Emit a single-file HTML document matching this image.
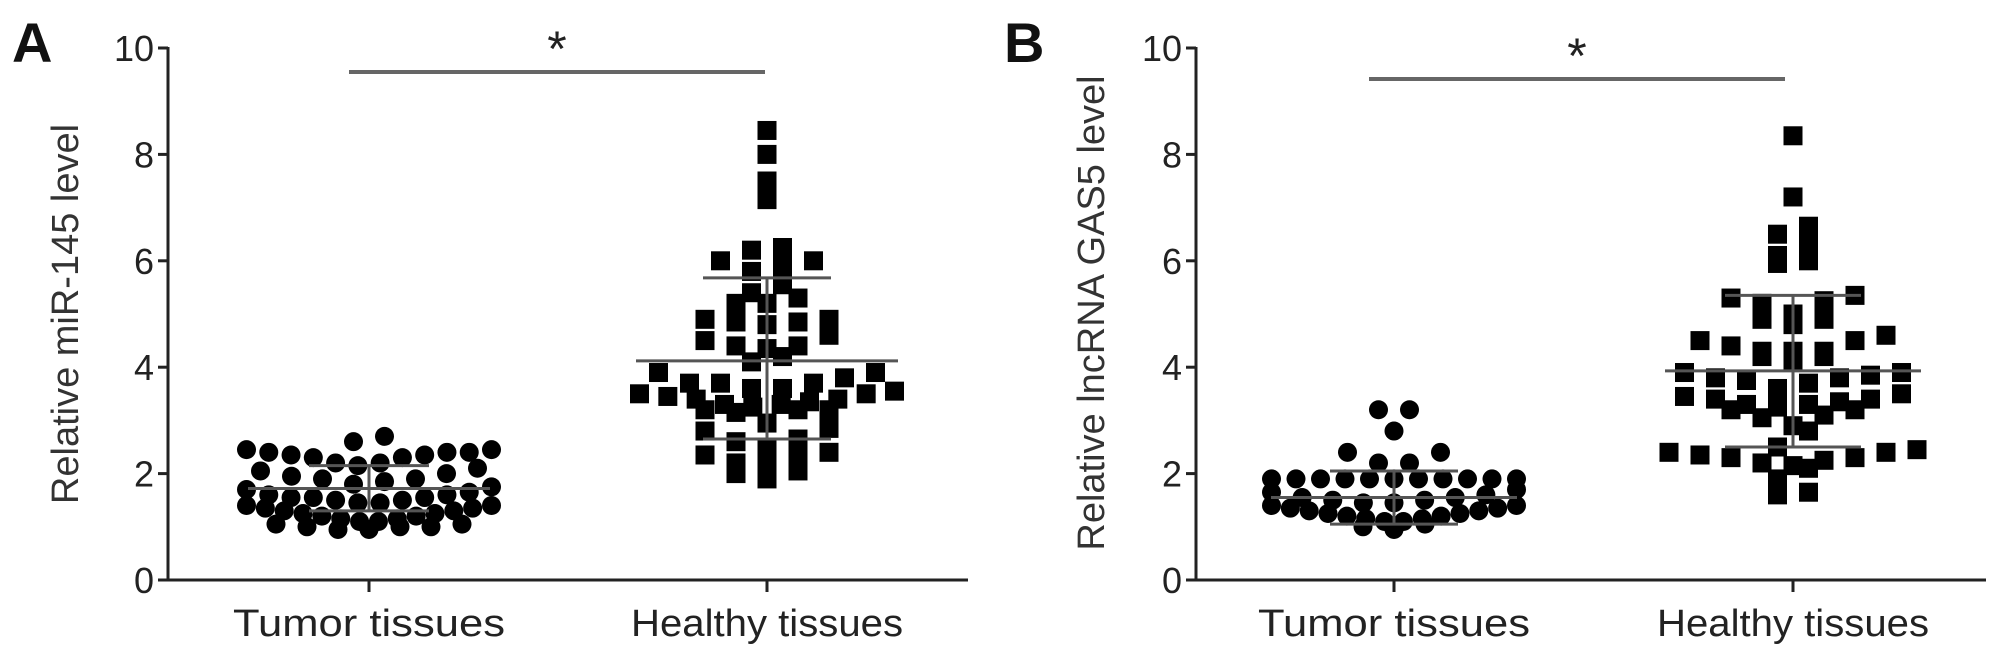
<!DOCTYPE html>
<html><head><meta charset="utf-8"><style>
html,body{margin:0;padding:0;background:#fff;}
svg{display:block;font-family:"Liberation Sans",Arial,sans-serif;}
</style></head><body>
<svg id="chart" width="2008" height="658" viewBox="0 0 2008 658" xmlns="http://www.w3.org/2000/svg"></svg>
<script>
const yTicks = [0, 2, 4, 6, 8, 10];
const categories = ["Tumor tissues", "Healthy tissues"];
const aTumor = [2.7,2.6,2.45,2.45,2.4,2.4,2.4,2.35,2.35,2.3,2.3,2.2,2.2,2.15,2.1,2.05,2.0,1.95,1.9,1.9,1.85,1.8,1.75,1.7,1.65,1.6,1.6,1.55,1.55,1.55,1.5,1.5,1.45,1.45,1.4,1.4,1.35,1.35,1.3,1.3,1.25,1.25,1.2,1.2,1.15,1.15,1.1,1.1,1.05,1.05,1.0,1.0,1.0,0.95,0.95];
const aHealthy = [8.45,8.0,7.5,7.15,6.25,6.2,6.0,6.0,5.9,5.8,5.55,5.4,5.3,5.2,5.2,4.9,4.9,4.8,4.85,4.85,4.4,4.4,4.5,4.6,4.35,4.2,4.1,3.9,3.9,3.8,3.7,3.7,3.6,3.55,3.5,3.45,3.4,3.35,3.3,3.25,3.2,3.2,3.15,3.2,3.3,3.4,3.5,3.6,3.7,2.95,2.85,2.8,2.65,2.6,2.5,2.4,2.35,2.3,2.2,2.2,2.05,2.0,1.9];
const bTumor = [3.2,3.2,2.8,2.4,2.4,2.2,2.2,1.9,1.9,1.9,1.9,1.9,1.9,1.9,1.9,1.9,1.9,1.9,1.7,1.65,1.6,1.55,1.55,1.5,1.5,1.45,1.45,1.4,1.4,1.35,1.35,1.3,1.3,1.25,1.25,1.2,1.2,1.15,1.15,1.1,1.1,1.05,1.0,0.95];
const bHealthy = [8.35,7.2,6.65,6.5,6.35,6.1,6.0,5.95,5.35,5.3,5.25,5.2,5.0,4.9,4.9,4.8,4.6,4.5,4.5,4.4,4.3,4.3,4.3,4.2,4.2,4.1,3.9,3.9,3.85,3.8,3.8,3.75,3.7,3.6,3.5,3.45,3.4,3.4,3.35,3.3,3.3,3.25,3.2,3.2,3.1,3.05,2.9,2.8,2.5,2.45,2.4,2.4,2.35,2.3,2.3,2.25,2.2,2.15,2.1,1.9,1.65,1.6];
const aStats = [[1.72,2.15,1.3],[4.12,5.68,2.65]];
const bStats = [[1.55,2.05,1.05],[3.93,5.35,2.5]];

const NS="http://www.w3.org/2000/svg";
const svg=document.getElementById('chart');
function el(tag,attrs,parent){const e=document.createElementNS(NS,tag);for(const k in attrs)e.setAttribute(k,attrs[k]);(parent||svg).appendChild(e);return e;}
function yScale(v){return 580 - v*53.2;}

function swarm(vals,size,maxW){
  const binV=size/53.2;
  const bins={};
  vals.forEach(v=>{const k=Math.floor(v/binV);(bins[k]=bins[k]||[]).push(v);});
  const out=[];
  Object.keys(bins).forEach(k=>{
    const row=bins[k].slice().sort((a,b)=>a-b);
    const n=row.length;
    const sp=n>1?Math.min(31,maxW/(n-1)):0;
    const offs=[];
    for(let i=0;i<n;i++){offs.push((i-(n-1)/2)*sp);}
    offs.sort((a,b)=>Math.abs(a)-Math.abs(b)||a-b);
    row.forEach((v,i)=>out.push({x:offs[i],y:yScale(v)}));
  });
  return out;
}

function panel(p){
  const g=el('g',{});
  
  
  const t=el('text',{x:p.letterX,y:62,'font-size':56,'font-weight':'bold',fill:'#111'},g);t.textContent=p.letter;
  
  const ya=el('line',{x1:p.ax,y1:yScale(10)-1,x2:p.ax,y2:581,stroke:'#222','stroke-width':3},g);
  
  const xa=el('line',{x1:p.ax-1,y1:580,x2:p.axEnd,y2:580,stroke:'#222','stroke-width':3},g);
  
  yTicks.forEach(v=>{
    el('line',{x1:p.ax-10,y1:yScale(v),x2:p.ax,y2:yScale(v),stroke:'#222','stroke-width':3},g);
    const tl=el('text',{x:p.ax-14,y:yScale(v)+13,'font-size':36,'text-anchor':'end',fill:'#222'},g);
    tl.textContent=v;
    
  });
  const yt=el('text',{x:0,y:0,'font-size':38,'text-anchor':'middle',fill:'#333',transform:`translate(${p.titleX},${p.titleY}) rotate(-90)`},g);
  yt.textContent=p.title;
  
  categories.forEach((c,i)=>{
    const cx=p.cx[i];
    el('line',{x1:cx,y1:580,x2:cx,y2:592,stroke:'#222','stroke-width':3},g);
    const ct=el('text',{x:cx,y:636,'font-size':38,'text-anchor':'middle',fill:'#222',textLength:272,lengthAdjust:'spacingAndGlyphs'},g);
    ct.textContent=c;
    
  });
  const size=19;
  swarm(p.tumor,size,245).forEach(pt=>{
    const c=el('circle',{cx:p.cx[0]+pt.x,cy:pt.y,r:size/2,fill:'#000'},g);
    
  });
  swarm(p.healthy,size,255).forEach(pt=>{
    const r=el('rect',{x:p.cx[1]+pt.x-size/2,y:pt.y-size/2,width:size,height:size,fill:'#000'},g);
    
  });
  p.stats.forEach((s,i)=>{
    const cx=p.cx[i];
    const m=el('line',{x1:cx-p.mw[i],y1:yScale(s[0]),x2:cx+p.mw[i],y2:yScale(s[0]),stroke:'#555','stroke-width':3},g);
    
    const v=el('line',{x1:cx,y1:yScale(s[1]),x2:cx,y2:yScale(s[2]),stroke:'#555','stroke-width':3},g);
    
    [s[1],s[2]].forEach(e=>{el('line',{x1:cx-p.sw[i],y1:yScale(e),x2:cx+p.sw[i],y2:yScale(e),stroke:'#555','stroke-width':3},g);});
  });
  const sb=el('line',{x1:p.sig[0],y1:p.sig[2],x2:p.sig[1],y2:p.sig[2],stroke:'#666','stroke-width':4},g);
  
  const st=el('text',{x:(p.sig[0]+p.sig[1])/2,y:p.sig[2]-6,'font-size':50,'text-anchor':'middle',fill:'#222'},g);
  st.textContent='*';
  
}

panel({name:'panel-a',letter:'A',letterX:12,ax:168,axEnd:968,cx:[369,767],title:'Relative miR-145 level',titleX:78,titleY:314,
  tumor:aTumor,healthy:aHealthy,stats:aStats,mw:[121,131],sw:[60,64],sig:[349,765,72]});
panel({name:'panel-b',letter:'B',letterX:1004,ax:1196,axEnd:1986,cx:[1394,1793],title:'Relative lncRNA GAS5 level',titleX:1104,titleY:313,
  tumor:bTumor,healthy:bHealthy,stats:bStats,mw:[123,128],sw:[64,68],sig:[1369,1785,79]});
</script>
</body></html>
